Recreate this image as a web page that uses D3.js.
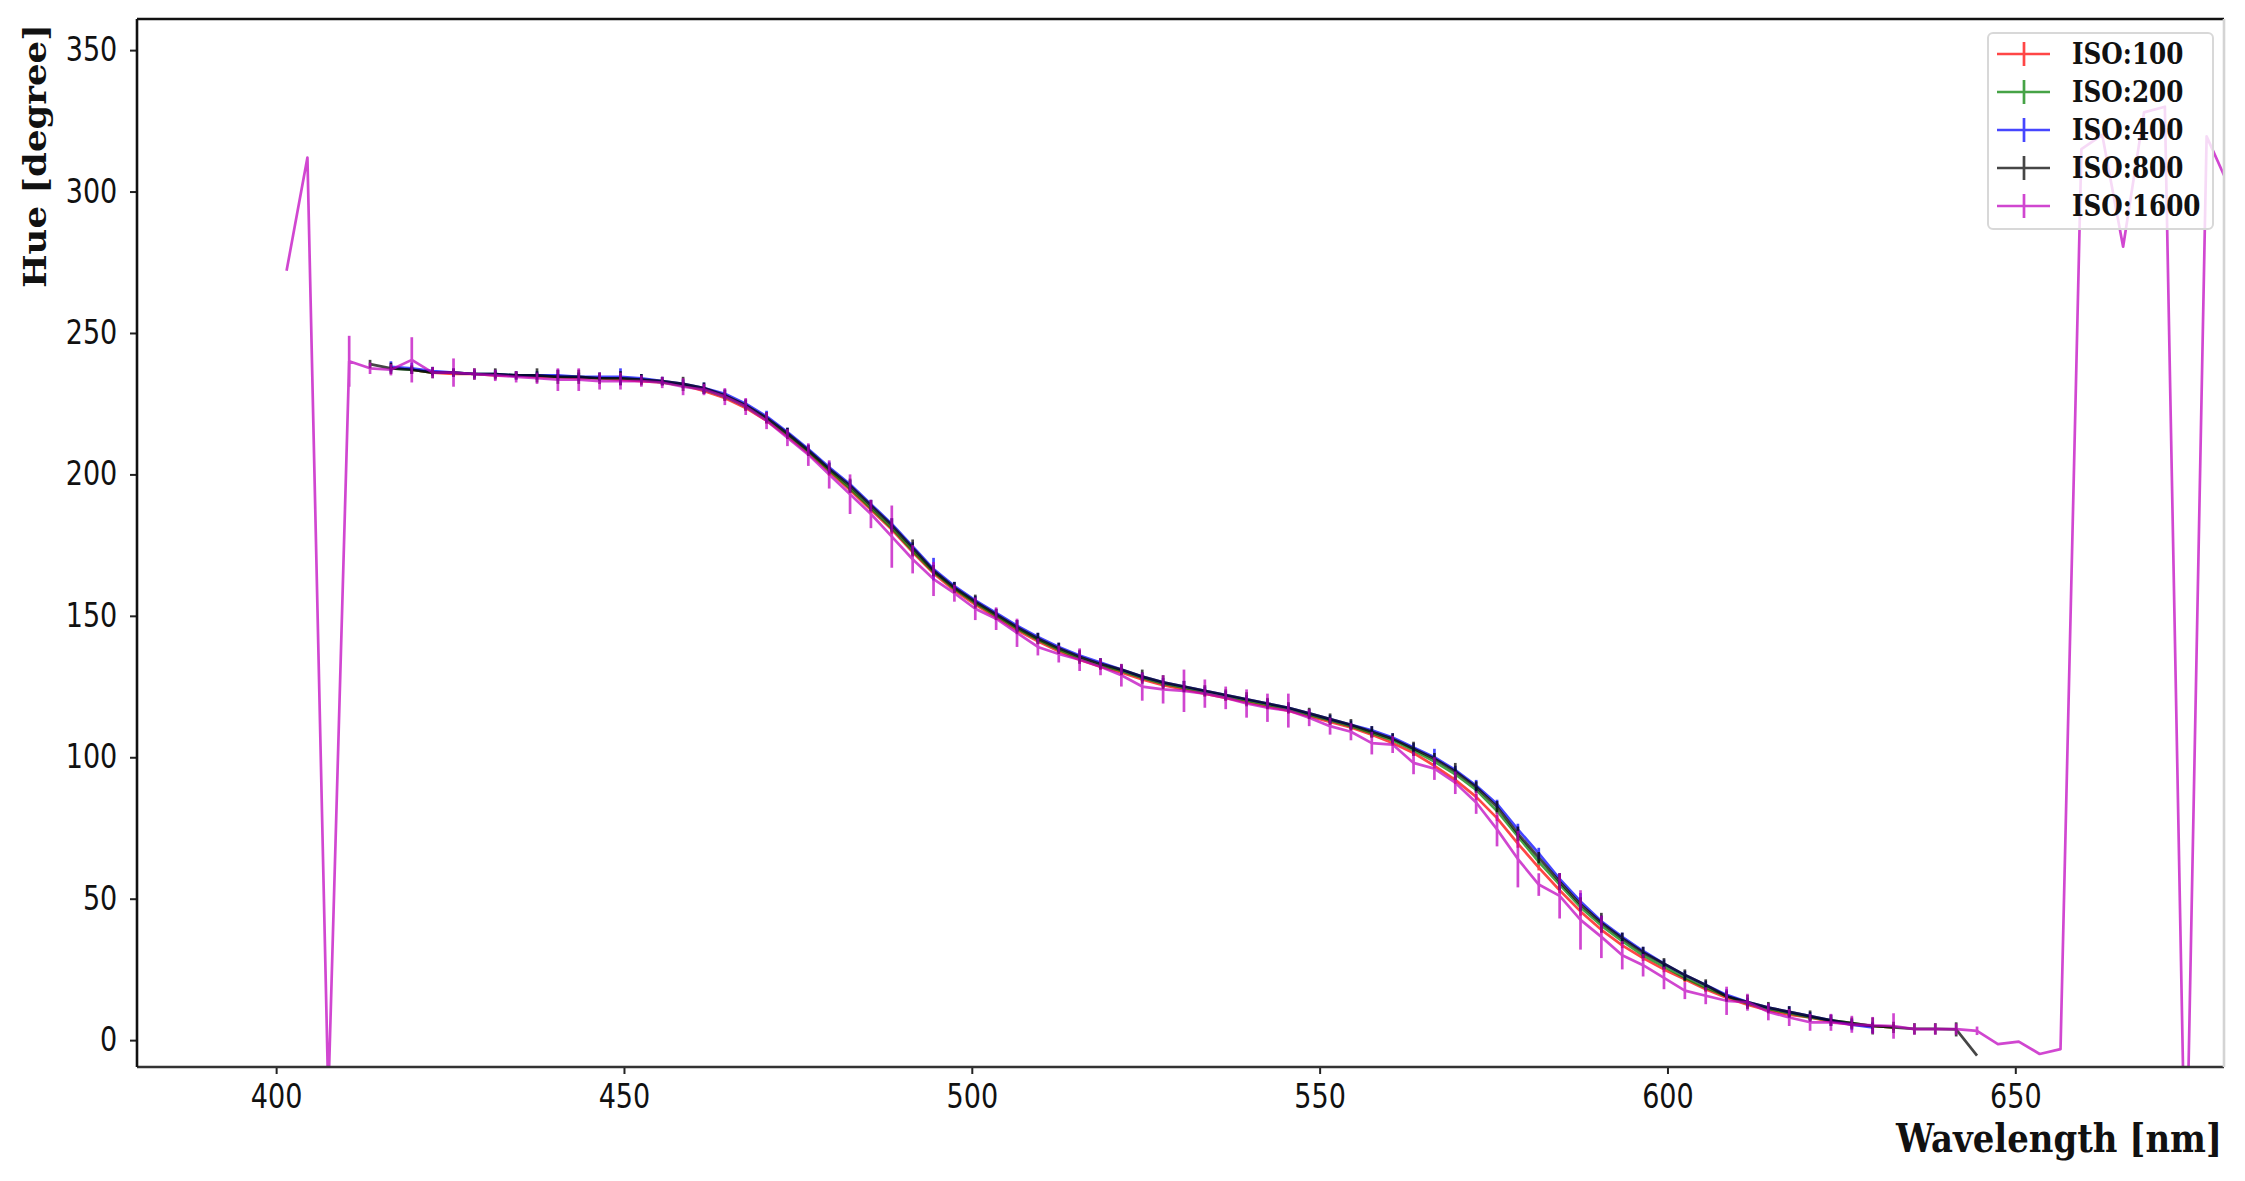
<!DOCTYPE html>
<html>
<head>
<meta charset="utf-8">
<script src="https://cdn.jsdelivr.net/npm/d3@7"></script>
<style>
body { margin: 0; background: #ffffff; }
</style>
</head>
<body>
<div id="chart"></div>
<script>

let wavelengths = [
  401.5, 404.5, 407.5, 410.5, 413.5, 416.5, 419.5, 422.5, 425.5, 428.5,
  431.5, 434.5, 437.5, 440.5, 443.5, 446.5, 449.5, 452.5, 455.5, 458.5,
  461.5, 464.5, 467.5, 470.5, 473.5, 476.5, 479.5, 482.5, 485.5, 488.5,
  491.5, 494.5, 497.5, 500.5, 503.5, 506.5, 509.5, 512.5, 515.5, 518.5,
  521.5, 524.5, 527.5, 530.5, 533.5, 536.5, 539.5, 542.5, 545.5, 548.5,
  551.5, 554.5, 557.5, 560.5, 563.5, 566.5, 569.5, 572.5, 575.5, 578.5,
  581.5, 584.5, 587.5, 590.5, 593.5, 596.5, 599.5, 602.5, 605.5, 608.5,
  611.5, 614.5, 617.5, 620.5, 623.5, 626.5, 629.5, 632.5, 635.5, 638.5,
  641.5, 644.5, 647.5, 650.5, 653.5, 656.5, 659.5, 662.5, 665.5, 668.5,
  671.5, 674.5, 677.5, 680.5
];

let iso100 = [
  null, null, null, null, null, null, 237, 236, 235.5, 235.5,
  235, 235, 234.5, 234.5, 234, 234, 233.5, 233, 232.5, 231.5,
  229.5, 227, 223.5, 219, 213.5, 207.5, 201, 194.5, 187.5, 180.5,
  172.5, 165, 159, 154, 149.5, 145, 141, 137.5, 134.5, 132,
  130, 127.5, 125.5, 124, 122.5, 121, 119.5, 118, 116.5, 114.5,
  112.5, 110.5, 108, 105, 101.5, 97, 92, 86, 78.5, 69.5,
  61, 53, 45.5, 39, 33.5, 29, 25, 21.5, 18, 15,
  12.5, 10.5, 9, 8, 6.5, 5.5, 5, 4.5, null, null,
  null, null, null, null, null, null, null, null, null, null,
  null, null, null, null
];
let iso100Err = [
  0, 0, 0, 0, 0, 0, 1.5, 1, 1, 1,
  1, 1, 1, 1, 1, 1, 1, 1, 1, 1,
  1, 1, 1, 1, 1, 1, 1.5, 1, 1, 1.5,
  1, 1, 1, 1, 1, 1, 1, 1, 1, 1,
  1, 1, 1, 1, 1, 1, 1, 1, 1, 1,
  1, 1, 1, 1, 1, 1, 1.5, 1, 1, 1.5,
  1, 1, 1.5, 1, 1, 1, 1, 1, 1, 1,
  1, 1, 1, 1, 1, 1, 1, 1, 0, 0,
  0, 0, 0, 0, 0, 0, 0, 0, 0, 0,
  0, 0, 0, 0
];

let iso200 = [
  null, null, null, null, null, 237.5, 237, 236, 236, 235.5,
  235.5, 235, 235, 234.5, 234.5, 234, 234, 233.5, 232.5, 231.5,
  230, 227.5, 224, 219.5, 214, 208, 201.5, 195, 188, 181,
  173, 165.5, 159.5, 154.5, 150, 145.5, 141.5, 138, 135, 132.5,
  130.5, 128, 126, 124.5, 123, 121.5, 120, 118.5, 117, 115,
  113, 111, 108.5, 106, 102.5, 98.5, 94, 88.5, 81, 72,
  63, 55, 47, 40.5, 35, 30, 26, 22, 18.5, 15.5,
  13, 11, 9.5, 8, 7, 6, 5, 4.5, null, null,
  null, null, null, null, null, null, null, null, null, null,
  null, null, null, null
];
let iso200Err = [
  0, 0, 0, 0, 0, 1, 1, 1, 1, 1,
  1, 1, 1, 1, 1.5, 1, 1.5, 1, 1, 1,
  1, 1, 1, 1, 1, 1.5, 1, 1, 1, 1,
  1, 1, 1, 1, 1, 1, 1, 1, 1, 1,
  1, 1, 1, 1, 1, 1, 1, 1, 1, 1,
  1, 1, 1.5, 1, 1, 1, 2, 1, 1, 1,
  1, 1, 1, 1, 1, 1, 1, 1, 1, 1.5,
  1, 1, 1, 1, 1, 1, 1, 1, 0, 0,
  0, 0, 0, 0, 0, 0, 0, 0, 0, 0,
  0, 0, 0, 0
];

let iso400 = [
  null, null, null, null, null, 238, 237.5, 236.5, 236, 235.5,
  235.5, 235, 235, 235, 234.5, 234.5, 234.5, 234, 233, 232,
  230.5, 228.5, 225, 220.5, 215, 209, 202.5, 196.5, 189.5, 182.5,
  174.5, 166.5, 160.5, 155.5, 151, 146.5, 142.5, 139, 136, 133.5,
  131, 128.5, 126.5, 125, 123.5, 122, 120.5, 119, 117.5, 115.5,
  113.5, 111.5, 109.5, 107, 103.5, 100, 95.5, 90, 83.5, 74.5,
  66, 57, 49, 42, 36.5, 31.5, 27, 23, 19.5, 16,
  13.5, 11.5, 10, 8.5, 7, 5.5, 4.5, null, null, null,
  null, null, null, null, null, null, null, null, null, null,
  null, null, null, null
];
let iso400Err = [
  0, 0, 0, 0, 0, 2, 2, 1.5, 1.5, 1.5,
  1.5, 1.5, 1.5, 2, 1.5, 1.5, 3, 1.5, 1.5, 1.5,
  2, 1.5, 1.5, 2, 1.5, 1.5, 2, 1.5, 1.5, 2,
  1.5, 4, 1.5, 1.5, 1.5, 2, 1.5, 1.5, 1.5, 1.5,
  1.5, 1.5, 1.5, 2, 1.5, 1.5, 1.5, 1.5, 1.5, 1.5,
  1.5, 1.5, 1.5, 1.5, 1.5, 3, 1.5, 2, 1.5, 2,
  2, 2, 3, 2, 1.5, 1.5, 1.5, 1.5, 1.5, 2,
  1.5, 1.5, 2, 1.5, 2, 2, 2, 0, 0, 0,
  0, 0, 0, 0, 0, 0, 0, 0, 0, 0,
  0, 0, 0, 0
];

let iso800 = [
  null, null, null, null, 239, 237.5, 237, 236, 236, 235.5,
  235.5, 235, 235, 234.5, 234.5, 234, 234, 233.5, 233, 232,
  230.5, 228, 224.5, 220, 214.5, 208.5, 202, 196, 189, 182,
  174, 166, 160, 155, 150.5, 146, 142, 138.5, 135.5, 133,
  131, 128.5, 126.5, 125, 123.5, 122, 120.5, 119, 117.5, 115.5,
  113.5, 111.5, 109, 106.5, 103, 99.5, 95, 89.5, 82.5, 73,
  64.5, 56, 48, 41.5, 36, 31, 27, 23, 19.5, 15.5,
  13.5, 11.5, 10, 8.5, 7, 6, 5, 4.5, 4, 4,
  3.8, -5.5, null, null, null, null, null, null, null, null,
  null, null, null, null
];
let iso800Err = [
  0, 0, 0, 0, 1.5, 2, 1.5, 2, 1.5, 2,
  2, 1.5, 2.5, 2.5, 2.5, 2, 2.5, 2, 1.5, 2.5,
  2, 2, 2, 2, 2, 2, 2, 2.5, 2, 2.5,
  3, 2, 2, 2.5, 2, 2.5, 2, 2, 2.5, 2,
  2, 2.5, 2.5, 2, 2, 2, 2.5, 2, 2, 2,
  2, 2, 2, 2, 2.5, 2, 3, 2, 2, 2.5,
  2, 3, 2.5, 3.5, 2, 2, 2, 2, 2, 2,
  2.5, 2, 2, 2, 2, 2, 3, 2, 2, 2,
  2.5, 0, 0, 0, 0, 0, 0, 0, 0, 0,
  0, 0, 0, 0
];

let iso1600 = [
  272, 312, -20, 240, 237.5, 237, 240.5, 236, 236, 235.5,
  235, 234.5, 234, 233.5, 233.5, 233, 233, 233, 232.5, 231,
  230, 227.5, 224, 219, 213, 207, 200, 193, 186, 178,
  170, 163, 158, 152.5, 149, 144, 139, 136.5, 134.5, 132,
  129, 125, 124, 123.5, 122.5, 121, 119, 117.5, 116.5, 114,
  111, 109, 105, 104.5, 98, 96, 91, 84, 74.5, 64,
  55, 51, 42.5, 36.5, 30, 26.5, 22, 17.5, 15.7, 13.9,
  13.4, 10, 8, 6.3, 6.3, 5.6, 5.2, 5, 3.9, 3.9,
  3.9, 3.3, -1.4, -0.5, -4.9, -3.2, 315, 320, 280.5, 328,
  330, -61, 319.5, 303
];
let iso1600Err = [
  0, 0, 0, 9, 2, 2, 8, 2, 5, 2,
  2, 2, 2, 4, 4, 3, 3, 2, 2, 3,
  2, 3, 3, 3, 3, 4, 5, 7, 5, 11,
  5, 6, 3, 4, 4, 5, 3, 3, 4, 3,
  4, 5, 5, 7.5, 5, 4, 5, 5, 6, 3,
  3, 3, 4, 3, 4, 4, 4, 4, 6, 10,
  4, 8, 10.5, 7.5, 5, 4, 4, 3, 3, 5,
  3, 3, 3, 3, 3, 3, 3, 4.5, 2, 2,
  2, 1.5, 0, 0, 0, 0, 0, 0, 0, 0,
  0, 0, 0, 0
];

let seriesNames = ["ISO:100", "ISO:200", "ISO:400", "ISO:800", "ISO:1600"];
let seriesColors = ["#ff0000", "#008000", "#0000ff", "#000000", "#bf00bf"];
let seriesValues = [iso100, iso200, iso400, iso800, iso1600];
let seriesErrors = [iso100Err, iso200Err, iso400Err, iso800Err, iso1600Err];

let xTicks = [400, 450, 500, 550, 600, 650];
let yTicks = [0, 50, 100, 150, 200, 250, 300, 350];

function drawHueChart() {

  let width = 2245;
  let height = 1181;
  let plot = {left: 137, right: 2224, top: 19, bottom: 1067};

  let svg = d3.select("#chart").append("svg")
  .attr("width", width)
  .attr("height", height);

  svg.append("rect")
  .attr("width", width)
  .attr("height", height)
  .attr("fill", "#ffffff");

  let x = d3.scaleLinear()
  .domain([380, 680])
  .range([plot.left, plot.right]);

  let y = d3.scaleLinear()
  .domain([-9.5, 361])
  .range([plot.bottom, plot.top]);

  svg.append("clipPath")
  .attr("id", "plot-clip")
  .append("rect")
  .attr("x", plot.left)
  .attr("y", plot.top)
  .attr("width", plot.right - plot.left)
  .attr("height", plot.bottom - plot.top);

  // series: line + vertical error bars
  let layer = svg.append("g")
  .attr("clip-path", "url(#plot-clip)");

  let line = d3.line()
  .defined(d => d.v != null)
  .x(d => x(d.w))
  .y(d => y(d.v));

  seriesValues.forEach(function(values, i) {
    let pts = values.map(function(v, j) {
      return {w: wavelengths[j], v: v, e: seriesErrors[i][j]};
    });

    let g = layer.append("g")
    .attr("opacity", 0.72);

    g.append("path")
    .datum(pts)
    .attr("d", line)
    .attr("fill", "none")
    .attr("stroke", seriesColors[i])
    .attr("stroke-width", 2.7)
    .attr("stroke-linejoin", "round");

    g.selectAll("line.err")
    .data(pts.filter(d => d.v != null && d.e > 0))
    .enter().append("line")
    .attr("class", "err")
    .attr("x1", d => x(d.w))
    .attr("x2", d => x(d.w))
    .attr("y1", d => y(d.v - d.e))
    .attr("y2", d => y(d.v + d.e))
    .attr("stroke", seriesColors[i])
    .attr("stroke-width", 2.7);
  });

  // axes
  let xAxis = svg.append("g")
  .attr("transform", "translate(0," + plot.bottom + ")")
  .call(d3.axisBottom(x).tickValues(xTicks).tickSize(7).tickPadding(11));

  let yAxis = svg.append("g")
  .attr("transform", "translate(" + plot.left + ",0)")
  .call(d3.axisLeft(y).tickValues(yTicks).tickSize(7).tickPadding(17));

  [xAxis, yAxis].forEach(function(ax) {
    ax.select(".domain").remove();
    ax.selectAll(".tick line")
    .attr("stroke", "#222222")
    .attr("stroke-width", 2);
    ax.selectAll(".tick text")
    .attr("fill", "#111111")
    .attr("font-family", "DejaVu Sans")
    .attr("font-size", 33)
    .attr("transform", "scale(0.82,1)");
  });

  // frame
  let frameLine = function(x1, y1, x2, y2, color) {
    svg.append("line")
    .attr("x1", x1).attr("y1", y1)
    .attr("x2", x2).attr("y2", y2)
    .attr("stroke", color)
    .attr("stroke-width", 2.6);
  };
  frameLine(plot.left, plot.top, plot.right, plot.top, "#111111");
  frameLine(plot.left, plot.bottom, plot.right, plot.bottom, "#333333");
  frameLine(plot.left, plot.top, plot.left, plot.bottom, "#111111");
  frameLine(plot.right, plot.top, plot.right, plot.bottom, "#d4d4d4");

  // axis labels
  svg.append("text")
  .attr("transform", "translate(2222,1152) scale(0.87,1)")
  .attr("text-anchor", "end")
  .attr("font-family", "DejaVu Serif")
  .attr("font-weight", "bold")
  .attr("font-size", 39)
  .attr("fill", "#111111")
  .text("Wavelength [nm]");

  svg.append("text")
  .attr("transform", "translate(46,24) rotate(-90) scale(1,0.87)")
  .attr("text-anchor", "end")
  .attr("font-family", "DejaVu Serif")
  .attr("font-weight", "bold")
  .attr("font-size", 35.5)
  .attr("fill", "#111111")
  .text("Hue [degree]");

  // legend
  let legend = svg.append("g");

  legend.append("rect")
  .attr("x", 1988)
  .attr("y", 33)
  .attr("width", 225)
  .attr("height", 196)
  .attr("rx", 5)
  .attr("fill", "#ffffff")
  .attr("fill-opacity", 0.8)
  .attr("stroke", "#d8d8d8")
  .attr("stroke-width", 2);

  seriesNames.forEach(function(name, i) {
    let cy = 54 + i * 38;
    let row = legend.append("g")
    .attr("opacity", 0.72);

    row.append("line")
    .attr("x1", 1997).attr("x2", 2050)
    .attr("y1", cy).attr("y2", cy)
    .attr("stroke", seriesColors[i])
    .attr("stroke-width", 2.7);

    row.append("line")
    .attr("x1", 2024).attr("x2", 2024)
    .attr("y1", cy - 12).attr("y2", cy + 12)
    .attr("stroke", seriesColors[i])
    .attr("stroke-width", 2.7);

    legend.append("text")
    .attr("transform", "translate(2072," + (cy + 10) + ") scale(0.85,1)")
    .attr("font-family", "DejaVu Serif")
    .attr("font-weight", "bold")
    .attr("font-size", 29)
    .attr("fill", "#111111")
    .text(name);
  });

}

drawHueChart();
</script>
</body>
</html>
